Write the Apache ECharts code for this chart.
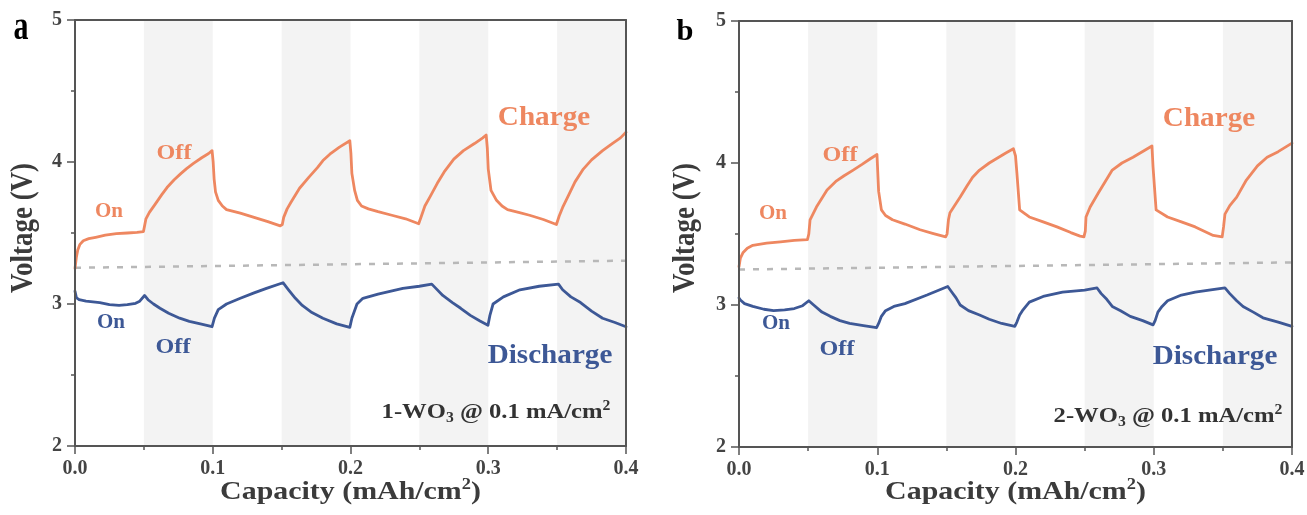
<!DOCTYPE html>
<html><head><meta charset="utf-8">
<script src="https://cdn.jsdelivr.net/npm/echarts@6/dist/echarts.min.js"></script>
<style>html,body{margin:0;padding:0;background:#fff}#c{width:1307px;height:515px}</style>
</head><body><div id="c"></div>
<script>
// ---- data ----
const xTicks = [0, 0.1, 0.2, 0.3, 0.4];
const yTicks = [2, 3, 4, 5];
const bands = [[0.05, 0.1], [0.15, 0.2], [0.25, 0.3], [0.35, 0.4]];

const chargeA = [
[0,3.25],[0.001,3.33],[0.002,3.38],[0.0036,3.42],[0.006,3.445],[0.01,3.46],[0.015,3.47],[0.022,3.485],[0.03,3.495],[0.038,3.5],[0.045,3.505],[0.0497,3.51],
[0.0505,3.55],[0.0515,3.6],[0.054,3.645],[0.058,3.7],[0.063,3.77],[0.0668,3.82],[0.072,3.875],[0.077,3.92],[0.081,3.953],[0.086,3.99],[0.092,4.03],[0.097,4.06],[0.0995,4.08],
[0.1003,4.0],[0.101,3.88],[0.102,3.79],[0.104,3.73],[0.107,3.69],[0.11,3.665],[0.12,3.64],[0.13,3.61],[0.14,3.58],[0.149,3.55],
[0.1505,3.56],[0.1515,3.61],[0.154,3.67],[0.157,3.72],[0.163,3.815],[0.17,3.895],[0.176,3.96],[0.18,4.01],[0.185,4.055],[0.192,4.105],[0.1995,4.15],
[0.2003,4.06],[0.201,3.92],[0.203,3.8],[0.205,3.73],[0.208,3.69],[0.213,3.67],[0.22,3.65],[0.23,3.625],[0.24,3.6],[0.2495,3.565],
[0.2505,3.575],[0.2515,3.62],[0.254,3.69],[0.258,3.76],[0.263,3.85],[0.268,3.93],[0.275,4.02],[0.282,4.08],[0.29,4.13],[0.296,4.17],[0.2985,4.19],
[0.2993,4.1],[0.3,3.95],[0.302,3.8],[0.306,3.73],[0.31,3.69],[0.314,3.665],[0.322,3.645],[0.33,3.625],[0.34,3.595],[0.3495,3.56],
[0.3505,3.57],[0.3515,3.62],[0.354,3.68],[0.358,3.76],[0.363,3.86],[0.369,3.95],[0.375,4.015],[0.383,4.08],[0.39,4.13],[0.396,4.17],[0.4,4.21]
];
const dischargeA = [
[0,3.09],[0.001,3.045],[0.003,3.03],[0.008,3.02],[0.018,3.01],[0.025,2.995],[0.032,2.99],[0.038,2.995],[0.044,3.005],[0.047,3.02],[0.0505,3.06],
[0.053,3.03],[0.057,3.0],[0.0617,2.97],[0.068,2.935],[0.076,2.9],[0.083,2.878],[0.091,2.86],[0.0995,2.84],
[0.1012,2.9],[0.104,2.96],[0.11,3.0],[0.12,3.04],[0.13,3.078],[0.139,3.11],[0.151,3.15],
[0.155,3.1],[0.16,3.04],[0.165,2.99],[0.172,2.94],[0.18,2.9],[0.19,2.86],[0.1995,2.835],
[0.201,2.9],[0.2047,3.0],[0.209,3.04],[0.22,3.07],[0.238,3.11],[0.25,3.125],[0.259,3.14],
[0.262,3.11],[0.267,3.06],[0.274,3.01],[0.28,2.97],[0.287,2.92],[0.294,2.88],[0.2998,2.85],
[0.3012,2.92],[0.3035,3.0],[0.311,3.05],[0.323,3.1],[0.337,3.125],[0.351,3.14],
[0.354,3.1],[0.36,3.05],[0.367,3.01],[0.375,2.95],[0.383,2.9],[0.392,2.87],[0.4,2.84]
];
const refA = [[0,3.255],[0.4,3.305]];

const chargeB = [
[0,3.27],[0.001,3.33],[0.003,3.37],[0.006,3.4],[0.01,3.42],[0.02,3.435],[0.03,3.445],[0.04,3.455],[0.0495,3.46],
[0.0505,3.5],[0.0514,3.6],[0.056,3.69],[0.0637,3.81],[0.07,3.87],[0.076,3.91],[0.0826,3.95],[0.089,3.99],[0.095,4.03],[0.0998,4.06],
[0.1003,3.95],[0.101,3.8],[0.103,3.67],[0.106,3.63],[0.111,3.6],[0.12,3.57],[0.131,3.53],[0.14,3.505],[0.1495,3.48],
[0.1505,3.5],[0.1515,3.6],[0.1526,3.65],[0.156,3.7],[0.16,3.76],[0.165,3.84],[0.169,3.9],[0.174,3.95],[0.181,4.0],[0.187,4.035],[0.193,4.07],[0.1985,4.1],
[0.2,4.05],[0.201,3.93],[0.203,3.67],[0.21,3.62],[0.22,3.585],[0.23,3.55],[0.24,3.51],[0.2467,3.485],[0.2495,3.48],
[0.2505,3.52],[0.251,3.62],[0.254,3.69],[0.26,3.79],[0.27,3.95],[0.277,4.0],[0.285,4.04],[0.2987,4.12],
[0.2995,3.97],[0.3017,3.67],[0.31,3.62],[0.32,3.585],[0.33,3.55],[0.343,3.49],[0.3495,3.48],
[0.3505,3.55],[0.3515,3.64],[0.355,3.7],[0.36,3.76],[0.367,3.88],[0.375,3.98],[0.382,4.04],[0.39,4.08],[0.395,4.11],[0.4,4.14]
];
const dischargeB = [
[0,3.05],[0.001,3.035],[0.004,3.01],[0.01,2.99],[0.018,2.97],[0.025,2.96],[0.033,2.965],[0.04,2.975],[0.046,2.995],[0.0505,3.03],
[0.054,3.0],[0.06,2.95],[0.066,2.92],[0.073,2.89],[0.08,2.87],[0.09,2.855],[0.0995,2.84],
[0.101,2.87],[0.103,2.92],[0.106,2.96],[0.112,2.99],[0.12,3.01],[0.136,3.07],[0.151,3.13],
[0.154,3.09],[0.157,3.05],[0.16,3.0],[0.166,2.96],[0.174,2.93],[0.181,2.9],[0.19,2.87],[0.1995,2.85],
[0.201,2.88],[0.203,2.93],[0.205,2.96],[0.21,3.02],[0.22,3.06],[0.234,3.09],[0.25,3.105],[0.259,3.12],
[0.262,3.08],[0.266,3.04],[0.27,2.99],[0.276,2.96],[0.283,2.92],[0.292,2.89],[0.2995,2.86],
[0.301,2.89],[0.303,2.95],[0.306,2.99],[0.31,3.03],[0.32,3.07],[0.33,3.09],[0.34,3.105],[0.3515,3.12],
[0.355,3.08],[0.36,3.03],[0.3646,2.99],[0.372,2.95],[0.379,2.91],[0.39,2.88],[0.4,2.85]
];
const refB = [[0,3.25],[0.4,3.30]];

// ---- style ----
const FONT = '"Liberation Serif","Times New Roman",serif';
const ORANGE = '#EE8760';
const BLUE = '#3D5896';
const AXIS = '#555555';
const LABEL = '#444444';

const xMin = xTicks[0], xMax = xTicks[xTicks.length - 1], xInt = xTicks[1] - xTicks[0];
const yMin = yTicks[0], yMax = yTicks[yTicks.length - 1], yInt = yTicks[1] - yTicks[0];

const grids = [
  { left: 75, top: 20, width: 551, height: 426 },
  { left: 739, top: 21, width: 553, height: 426 }
].map(g => Object.assign({ outerBoundsMode: 'none', containLabel: false }, g));

function mainX(gi) {
  return {
    type: 'value', gridIndex: gi, min: xMin, max: xMax, interval: xInt, z: 10,
    axisLine: { show: true, onZero: false, lineStyle: { color: AXIS, width: 2 } },
    axisTick: { show: true, length: 8, lineStyle: { color: AXIS, width: 1.5 } },
    minorTick: { show: true, splitNumber: 2, length: 4, lineStyle: { color: AXIS, width: 1.5 } },
    splitLine: { show: false }, minorSplitLine: { show: false },
    axisLabel: { color: LABEL, fontFamily: FONT, fontWeight: 'bold', fontSize: 20, margin: 13,
      formatter: v => v.toFixed(1) }
  };
}
function mainY(gi) {
  return {
    type: 'value', gridIndex: gi, min: yMin, max: yMax, interval: yInt, z: 10,
    axisLine: { show: true, onZero: false, lineStyle: { color: AXIS, width: 2 } },
    axisTick: { show: true, length: 8, lineStyle: { color: AXIS, width: 1.5 } },
    minorTick: { show: true, splitNumber: 2, length: 4, lineStyle: { color: AXIS, width: 1.5 } },
    splitLine: { show: false }, minorSplitLine: { show: false },
    axisLabel: { color: LABEL, fontFamily: FONT, fontWeight: 'bold', fontSize: 20, margin: 13,
      formatter: v => String(Math.round(v)) }
  };
}
function frameX(gi) {
  return { type: 'value', gridIndex: gi, position: 'top', min: xMin, max: xMax, z: 10,
    axisLine: { show: true, onZero: false, lineStyle: { color: AXIS, width: 2 } },
    axisTick: { show: false }, axisLabel: { show: false }, splitLine: { show: false } };
}
function frameY(gi) {
  return { type: 'value', gridIndex: gi, position: 'right', min: yMin, max: yMax, z: 10,
    axisLine: { show: true, onZero: false, lineStyle: { color: AXIS, width: 2 } },
    axisTick: { show: false }, axisLabel: { show: false }, splitLine: { show: false } };
}

function panelSeries(gi, charge, discharge, ref) {
  const xi = gi * 2, yi = gi * 2;
  const base = { type: 'line', xAxisIndex: xi, yAxisIndex: yi, symbol: 'none', showSymbol: false,
    silent: true, animation: false, smooth: false };
  return [
    Object.assign({}, base, { name: 'bands' + gi, data: [], z: 1,
      markArea: { silent: true, itemStyle: { color: '#F3F3F3' },
        data: bands.map(b => [{ xAxis: b[0] }, { xAxis: b[1] }]) } }),
    Object.assign({}, base, { name: 'ref' + gi, data: ref, z: 2,
      lineStyle: { color: '#B8B8B8', width: 2.5, type: [6, 8] } }),
    Object.assign({}, base, { name: 'Charge' + gi, data: charge, z: 3,
      lineStyle: { color: ORANGE, width: 2.8, cap: 'round', join: 'round' } }),
    Object.assign({}, base, { name: 'Discharge' + gi, data: discharge, z: 3,
      lineStyle: { color: BLUE, width: 2.8, cap: 'round', join: 'round' } })
  ];
}

function txt(text, x, y, size, color, sx, opts) {
  return Object.assign({
    type: 'text', x: x, y: y, scaleX: sx || 1, silent: true, z: 20,
    style: { text: text, fill: color, font: 'bold ' + size + 'px ' + FONT, align: 'center', verticalAlign: 'middle' }
  }, opts || {});
}
function richTxt(text, rich, x, y, sx, opts) {
  return Object.assign({
    type: 'text', x: x, y: y, scaleX: sx || 1, silent: true, z: 20,
    style: { text: text, rich: rich, align: 'center', verticalAlign: 'middle' }
  }, opts || {});
}
const capRich = {
  n: { fontFamily: FONT, fontWeight: 'bold', fontSize: 26, fill: '#3b3b3b', color: '#3b3b3b', lineHeight: 30 },
  p: { fontFamily: FONT, fontWeight: 'bold', fontSize: 16, fill: '#3b3b3b', color: '#3b3b3b', lineHeight: 18, verticalAlign: 'top' }
};
const woRich = {
  n: { fontFamily: FONT, fontWeight: 'bold', fontSize: 22, fill: '#333', color: '#333', lineHeight: 26 },
  s: { fontFamily: FONT, fontWeight: 'bold', fontSize: 14, fill: '#333', color: '#333', lineHeight: 14, verticalAlign: 'bottom' },
  p: { fontFamily: FONT, fontWeight: 'bold', fontSize: 14, fill: '#333', color: '#333', lineHeight: 14, verticalAlign: 'top' }
};

function panelText(dx, letter, letterPos, letterSize, letterSx, sample, pos) {
  return [
    txt(letter, letterPos[0], letterPos[1], letterSize, '#000', letterSx),
    txt('Voltage (V)', pos.vx, 228, 27, '#3b3b3b', 1, { rotation: Math.PI / 2, scaleY: 1.15 }),
    richTxt('{n|Capacity (mAh/cm}{p|2}{n|)}', capRich, pos.cx, 492, 1.15),
    txt('On', pos.on1[0], pos.on1[1], 21, ORANGE, 1.0),
    txt('Off', pos.off1[0], pos.off1[1], 21, ORANGE, 1.15),
    txt('On', pos.on2[0], pos.on2[1], 21, BLUE, 1.0),
    txt('Off', pos.off2[0], pos.off2[1], 21, BLUE, 1.15),
    txt('Charge', pos.ch[0], pos.ch[1], 27, ORANGE, 1.08),
    txt('Discharge', pos.dis[0], pos.dis[1], 27, BLUE, 1.08),
    richTxt('{n|' + sample + '-WO}{s|3}{n| @ 0.1 mA/cm}{p|2}', woRich, pos.wo[0], pos.wo[1], 1.12)
  ];
}

const option = {
  backgroundColor: '#ffffff',
  animation: false,
  grid: grids,
  xAxis: [mainX(0), frameX(0), mainX(1), frameX(1)],
  yAxis: [mainY(0), frameY(0), mainY(1), frameY(1)],
  series: [].concat(panelSeries(0, chargeA, dischargeA, refA), panelSeries(1, chargeB, dischargeB, refB)),
  graphic: [].concat(
    panelText(0, 'a', [21, 29], 40, 0.75, '1', {
      vx: 24, cx: 350.5, on1: [109, 212], off1: [174, 154], on2: [111, 323], off2: [173, 348],
      ch: [544, 118], dis: [550, 356], wo: [496, 412.5] }),
    panelText(1, 'b', [685, 33], 29, 1.05, '2', {
      vx: 686, cx: 1015.5, on1: [773, 214], off1: [840, 156], on2: [776, 324], off2: [837, 350],
      ch: [1209, 119], dis: [1215, 357], wo: [1168, 416] })
  )
};

const chart = echarts.init(document.getElementById('c'), null, { renderer: 'canvas', width: 1307, height: 515 });
chart.setOption(option);
</script>
</body></html>
